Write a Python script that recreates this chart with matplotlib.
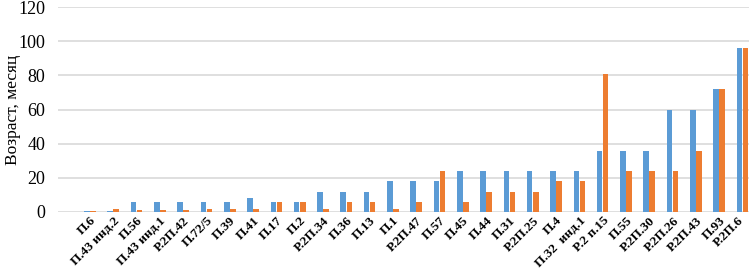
import numpy as np
import matplotlib.pyplot as plt
from matplotlib.transforms import ScaledTranslation

labels = ["П.6", "П.43 инд.2", "П.56", "П.43 инд.1", "Р.2П.42", "П.72/5", "П.39",
          "П.41", "П.17", "П.2", "Р.2П.34", "П.36", "П.13", "П.1", "Р.2П.47",
          "П.57", "П.45", "П.44", "П.31", "Р.2П.25", "П.4", "П.32  инд.1",
          "Р.2 п.15", "П.55", "Р.2П.30", "Р.2П.26", "Р.2П.43", "П.93", "Р.2П.6"]
blue = [0.5, 0.5, 6, 6, 6, 6, 6, 8, 6, 6, 12, 12, 12, 18, 18,
        18, 24, 24, 24, 24, 24, 24, 36, 36, 36, 60, 60, 72, 96]
orange = [0.5, 2, 1, 1, 1, 2, 2, 2, 6, 6, 2, 6, 6, 2, 6,
          24, 6, 12, 12, 12, 18, 18, 81, 24, 24, 24, 36, 72, 96]

fig = plt.figure(figsize=(7.49, 2.78), dpi=100)
ax = fig.add_axes([58 / 749, 66 / 278, 691 / 749, 205 / 278])

x = np.arange(len(labels))
ax.bar(x - 0.13, blue, width=0.24, color="#5B9BD5", zorder=3)
ax.bar(x + 0.13, orange, width=0.24, color="#ED7D31", zorder=3)

ax.set_xlim(-1.37, 28.28)
ax.set_ylim(0, 120)
ax.set_yticks(range(0, 121, 20))
ax.yaxis.grid(True, color="#D9D9D9", linewidth=1.2, zorder=0)
for s in ax.spines.values():
    s.set_visible(False)
ax.tick_params(length=0)
ax.tick_params(axis="y", pad=9)
ax.tick_params(axis="x", pad=2)

ax.set_xticks(x)
ax.set_xticklabels(labels, rotation=45, ha="right", rotation_mode="anchor",
                   family="Liberation Serif", fontweight="bold", fontsize=9.5)
# nudge the last label so it stays inside the figure
last = ax.get_xticklabels()[-1]
last.set_transform(last.get_transform() + ScaledTranslation(-5 / 100, 0, fig.dpi_scale_trans))
for t in ax.get_yticklabels():
    t.set_family("Liberation Serif")
    t.set_fontsize(13)
ax.set_ylabel("Возраст, месяц", family="Liberation Serif", fontsize=12.5)
ax.yaxis.set_label_coords(-0.054, 0.5)

fig.savefig("out.png", dpi=100)
